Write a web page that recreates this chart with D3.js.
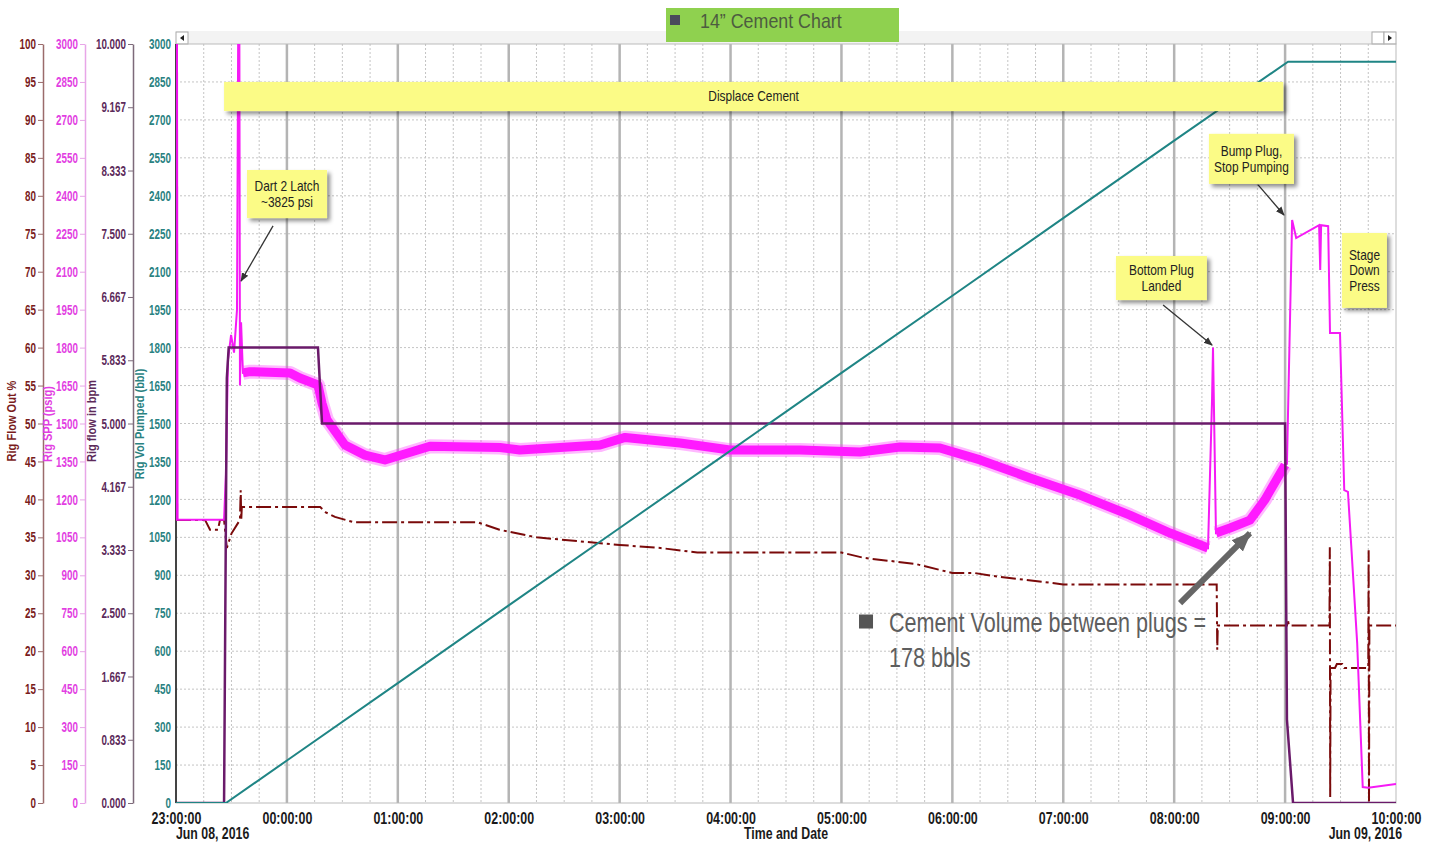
<!DOCTYPE html>
<html>
<head>
<meta charset="utf-8">
<script src="https://cdn.jsdelivr.net/npm/d3@7"></script>
<style>
  body { margin: 0; background: #fff; }
  svg text { font-family: "Liberation Sans", Arial, sans-serif; }
</style>
</head>
<body>
<div id="chart"></div>
<script>
// times are minutes after 23:00:00 Jun 08, 2016

// Rig SPP (psig)
const sppTime = [0, 0.3, 26, 27, 28.1, 29.8, 31.4, 33, 34.1, 34.6, 35.2, 36.2, 40, 61.7, 67, 76.8, 79, 81.7, 91.4, 102.2, 113,
  137.4, 175.3, 186, 229.4, 243, 272.7, 299.7, 337.6, 370, 391.7, 413.3, 435, 462, 489, 516, 537.8, 558.3, 560.5, 561,
  562.6, 570.2, 581, 589, 600, 601, 603.8, 606, 618.4, 619, 619.5, 623.3, 624.3, 629.7, 632, 634, 639, 642, 645, 660]
const sppPsi = [3000, 1120, 1120, 1300, 1750, 1850, 1780, 1950, 3825, 1650, 1900, 1700, 1705, 1700, 1680, 1652, 1580, 1514, 1415, 1375, 1356,
  1410, 1405, 1395, 1415, 1445, 1423, 1395, 1395, 1387, 1407, 1403, 1356, 1285, 1217, 1138, 1067, 1008, 1600, 1800,
  1067, 1087, 1118, 1198, 1336, 1340, 2304, 2233, 2284, 2107, 2284, 2280, 1858, 1858, 1237, 1230, 632, 63, 60, 75]

// Rig flow in (bpm)
const flowInTime = [0, 26, 27.5, 28.5, 76.8, 79, 600, 601, 604.3, 660]
const flowInBpm = [0, 0, 5.6, 6.0, 6.0, 5.0, 5.0, 1.1, 0, 0]

// Rig Flow Out %
const flowOutTime = [0, 15.7, 18.4, 22.7, 23.8, 26, 27.5, 30, 34.6, 35.0, 35.3, 35.6, 78, 81, 86, 96, 163, 175, 195, 240, 262, 282,
  360, 372, 400, 420, 432, 445, 460, 480, 563, 563.3, 563.6, 601, 601.5, 602, 624, 624.2, 624.4, 624.6, 627, 628, 631, 632,
  645, 645.2, 645.4, 645.6, 660]
const flowOutPct = [37.3, 37.3, 36, 36, 37.3, 37.3, 33.6, 35.5, 37.3, 41.2, 37.3, 39, 39, 38.3, 37.7, 37, 37, 36, 35, 34, 33.6, 33,
  33, 32.3, 31.5, 30.3, 30.3, 29.8, 29.4, 28.8, 28.8, 20.2, 23.4, 23.4, 24.2, 23.4, 23.4, 33.7, 0.8, 17.8, 17.8, 18.3, 18.3, 17.8,
  17.8, 33.3, 0, 23.4, 23.4]

// Rig Vol Pumped (bbl)
const volTime = [0, 27, 60, 120, 180, 240, 300, 360, 420, 480, 540, 601.6, 660]
const volBbl = [0, 0, 168, 474, 781, 1087, 1393, 1700, 2005, 2312, 2618, 2930, 2930]

// tick labels
const pctTicks = [0, 5, 10, 15, 20, 25, 30, 35, 40, 45, 50, 55, 60, 65, 70, 75, 80, 85, 90, 95, 100]
const psiTicks = [0, 150, 300, 450, 600, 750, 900, 1050, 1200, 1350, 1500, 1650, 1800, 1950, 2100, 2250, 2400, 2550, 2700, 2850, 3000]
const bpmTicks = [0, 0.833, 1.667, 2.5, 3.333, 4.167, 5, 5.833, 6.667, 7.5, 8.333, 9.167, 10]
const hourTicks = [0, 60, 120, 180, 240, 300, 360, 420, 480, 540, 600, 660]

const width = 1437, height = 846
const plot = { left: 176, right: 1396, top: 44, bottom: 803 }

const t0 = new Date(2016, 5, 8, 23, 0, 0)
const tm = m => new Date(t0.getTime() + m * 60000)

let svg = d3.select('#chart').append('svg')
  .attr('width', width)
  .attr('height', height)

let x = d3.scaleTime().domain([tm(0), tm(660)]).range([plot.left, plot.right])
let yBbl = d3.scaleLinear().domain([0, 3000]).range([plot.bottom, plot.top])
let yPsi = d3.scaleLinear().domain([0, 3000]).range([plot.bottom, plot.top])
let yPct = d3.scaleLinear().domain([0, 100]).range([plot.bottom, plot.top])
let yBpm = d3.scaleLinear().domain([0, 10]).range([plot.bottom, plot.top])

// narrow-looking text: squeeze horizontally
function ntext(parent, px, py, str, size, sx, sy) {
  return parent.append('text')
    .attr('transform', `translate(${px},${py}) scale(${sx},${sy || 1})`)
    .attr('font-size', size)
    .text(str)
}

let defs = svg.append('defs')
defs.append('clipPath').attr('id', 'plotClip')
  .append('rect')
  .attr('x', plot.left).attr('y', plot.top)
  .attr('width', plot.right - plot.left).attr('height', plot.bottom - plot.top)

let shadow = defs.append('filter').attr('id', 'shadow')
  .attr('x', '-20%').attr('y', '-20%').attr('width', '150%').attr('height', '160%')
shadow.append('feDropShadow')
  .attr('dx', 3).attr('dy', 3).attr('stdDeviation', 2)
  .attr('flood-color', '#000').attr('flood-opacity', 0.45)

function addArrow(id, color, size) {
  defs.append('marker')
    .attr('id', id)
    .attr('viewBox', '0 0 10 10')
    .attr('refX', 9).attr('refY', 5)
    .attr('markerWidth', size).attr('markerHeight', size)
    .attr('markerUnits', 'userSpaceOnUse')
    .attr('orient', 'auto')
    .append('path')
    .attr('d', 'M0,1 L10,5 L0,9 Z')
    .attr('fill', color)
}
addArrow('arrowSmall', '#333', 9)
addArrow('arrowBig', '#666', 20)

// scroll strip above the plot
svg.append('rect')
  .attr('x', plot.left).attr('y', 31)
  .attr('width', plot.right - plot.left).attr('height', 13)
  .attr('fill', '#f3f3f3')
svg.append('rect').attr('x', plot.left).attr('y', 32).attr('width', 12).attr('height', 12)
  .attr('fill', '#fff').attr('stroke', '#aaa')
svg.append('path').attr('d', `M${plot.left + 8},35 L${plot.left + 4},38 L${plot.left + 8},41 Z`).attr('fill', '#222')
svg.append('rect').attr('x', plot.right - 24).attr('y', 32).attr('width', 12).attr('height', 12)
  .attr('fill', '#fff').attr('stroke', '#aaa')
svg.append('rect').attr('x', plot.right - 12).attr('y', 32).attr('width', 12).attr('height', 12)
  .attr('fill', '#fff').attr('stroke', '#aaa')
svg.append('path').attr('d', `M${plot.right - 8},35 L${plot.right - 4},38 L${plot.right - 8},41 Z`).attr('fill', '#222')

// grid
let grid = svg.append('g')
grid.selectAll('.hgrid')
  .data(psiTicks.slice(1, -1))
  .join('line')
  .attr('x1', plot.left).attr('x2', plot.right)
  .attr('y1', d => yBbl(d)).attr('y2', d => yBbl(d))
  .attr('stroke', '#c4c4c4').attr('stroke-dasharray', '2,2')

let quarterTicks = d3.range(15, 660, 15).filter(m => m % 60 !== 0)
grid.selectAll('.vgrid')
  .data(quarterTicks)
  .join('line')
  .attr('x1', d => x(tm(d))).attr('x2', d => x(tm(d)))
  .attr('y1', plot.top).attr('y2', plot.bottom)
  .attr('stroke', '#c4c4c4').attr('stroke-dasharray', '2,2')

grid.selectAll('.hourgrid')
  .data(hourTicks.slice(1, -1))
  .join('line')
  .attr('x1', d => x(tm(d))).attr('x2', d => x(tm(d)))
  .attr('y1', plot.top).attr('y2', plot.bottom)
  .attr('stroke', '#b4b4b4').attr('stroke-width', 2.5)

// plot frame
svg.append('rect')
  .attr('x', plot.left).attr('y', plot.top)
  .attr('width', plot.right - plot.left).attr('height', plot.bottom - plot.top)
  .attr('fill', 'none').attr('stroke', '#bbb')
svg.append('line')
  .attr('x1', plot.left).attr('x2', plot.left)
  .attr('y1', plot.top).attr('y2', plot.bottom)
  .attr('stroke', '#111').attr('stroke-width', 1.5)

// left axes
function leftAxis(scale, xPos, ticks, fmt, textColor, lineColor, tickSize) {
  let pad = tickSize ? 2 : 5
  let g = svg.append('g')
    .attr('transform', `translate(${xPos},0)`)
    .call(d3.axisLeft(scale).tickValues(ticks).tickFormat(fmt).tickSize(tickSize).tickSizeOuter(0).tickPadding(pad))
  g.attr('font-family', null).attr('font-size', null)
  g.select('.domain').attr('stroke', lineColor).attr('stroke-width', 1.5)
  g.selectAll('.tick line').attr('stroke', lineColor)
  g.selectAll('.tick text')
    .attr('fill', textColor)
    .attr('font-size', 12)
    .attr('font-weight', 'bold')
    .attr('x', -(tickSize + pad) / 0.82)
    .attr('transform', 'scale(0.82,1.2)')
  return g
}

leftAxis(yPct, 43, pctTicks, d3.format('d'), '#7a1c1c', '#9b6b6b', 5)
leftAxis(yPsi, 85, psiTicks, d3.format('d'), '#e23ee2', '#e8a6e8', 5)
leftAxis(yBpm, 133, bpmTicks, d3.format('.3f'), '#5c2a5a', '#7d6a7a', 5)
leftAxis(yBbl, plot.left, psiTicks, d3.format('d'), '#2a8282', 'none', 0)

function axisTitle(txt, xPos, yMid, color) {
  svg.append('text')
    .attr('transform', `translate(${xPos},${yMid}) rotate(-90) scale(0.92,1)`)
    .attr('text-anchor', 'middle')
    .attr('font-size', 12)
    .attr('font-weight', 'bold')
    .attr('fill', color)
    .text(txt)
}
axisTitle('Rig Flow Out %', 16, 421, '#7a1c1c')
axisTitle('Rig SPP (psig)', 52, 424, '#e23ee2')
axisTitle('Rig flow in bpm', 96, 421, '#5c2a5a')
axisTitle('Rig Vol Pumped (bbl)', 144, 424, '#2a8282')

// bottom axis
let xAxis = svg.append('g')
  .attr('transform', `translate(0,${plot.bottom})`)
  .call(d3.axisBottom(x).tickValues(hourTicks.map(tm)).tickFormat(d3.timeFormat('%H:%M:%S')).tickSize(0).tickPadding(8))
xAxis.attr('font-family', null).attr('font-size', null)
xAxis.select('.domain').remove()
xAxis.selectAll('.tick text')
  .attr('fill', '#1a1a1a')
  .attr('font-size', 14)
  .attr('font-weight', 'bold')
  .attr('transform', 'scale(0.89,1.15)')

let dateLabels = svg.append('g').attr('font-weight', 'bold').attr('fill', '#1a1a1a')
ntext(dateLabels, plot.left, 839, 'Jun 08, 2016', 14, 0.88, 1.12)
ntext(dateLabels, (plot.left + plot.right) / 2, 839, 'Time and Date', 14, 0.88, 1.12).attr('text-anchor', 'middle')
ntext(dateLabels, plot.right + 6, 839, 'Jun 09, 2016', 14, 0.88, 1.12).attr('text-anchor', 'end')

// series
let series = svg.append('g').attr('clip-path', 'url(#plotClip)')

let sppData = sppTime.map((t, i) => ({ t: t, v: sppPsi[i] }))
let flowInData = flowInTime.map((t, i) => ({ t: t, v: flowInBpm[i] }))
let flowOutData = flowOutTime.map((t, i) => ({ t: t, v: flowOutPct[i] }))
let volData = volTime.map((t, i) => ({ t: t, v: volBbl[i] }))

function lineFor(yScale) {
  return d3.line().x(d => x(tm(d.t))).y(d => yScale(d.v))
}

series.append('path')
  .datum(flowOutData)
  .attr('d', lineFor(yPct))
  .attr('fill', 'none')
  .attr('stroke', '#7a0a0a')
  .attr('stroke-width', 2)
  .attr('stroke-dasharray', '15,4,3,4')

series.append('path')
  .datum(sppData)
  .attr('d', lineFor(yPsi))
  .attr('fill', 'none')
  .attr('stroke', '#f51af5')
  .attr('stroke-width', 2)

// the noisy stretch of SPP shows as a wide band
let bandParts = [sppData.filter(d => d.t >= 36.2 && d.t <= 558.3), sppData.filter(d => d.t >= 562.6 && d.t <= 600)]
bandParts.forEach(part => {
  series.append('path')
    .datum(part)
    .attr('d', lineFor(yPsi))
    .attr('fill', 'none')
    .attr('stroke', '#ff33ff')
    .attr('stroke-opacity', 0.35)
    .attr('stroke-width', 14)
    .attr('stroke-linejoin', 'round')
  series.append('path')
    .datum(part)
    .attr('d', lineFor(yPsi))
    .attr('fill', 'none')
    .attr('stroke', '#ff1aff')
    .attr('stroke-width', 9)
    .attr('stroke-linejoin', 'round')
})

series.append('path')
  .datum(sppData.filter(d => d.t <= 0.3))
  .attr('d', lineFor(yPsi))
  .attr('fill', 'none')
  .attr('stroke', '#ee11ee')
  .attr('stroke-width', 4)

series.append('path')
  .datum(flowInData)
  .attr('d', lineFor(yBpm))
  .attr('fill', 'none')
  .attr('stroke', '#6a1a6a')
  .attr('stroke-width', 2.5)

series.append('path')
  .datum(volData)
  .attr('d', lineFor(yBbl))
  .attr('fill', 'none')
  .attr('stroke', '#1f8585')
  .attr('stroke-width', 2)

// annotations (placed in time / value units)
let notes = [
  { lines: ['Displace Cement'], t: [26, 599], v: [2850, 2735] },
  { lines: ['Dart 2 Latch', '~3825 psi'], t: [38.4, 81.7], v: [2502, 2312] },
  { lines: ['Bump Plug,', 'Stop Pumping'], t: [558.8, 604.8], v: [2645, 2447] },
  { lines: ['Bottom Plug', 'Landed'], t: [508.5, 557.7], v: [2162, 1988] },
  { lines: ['Stage', 'Down', 'Press'], t: [630.8, 655.1], v: [2253, 1957] }
]
let arrows = [
  { from: [52.5, 2281], to: [35.2, 2063] },
  { from: [534, 1968], to: [560.5, 1810] },
  { from: [585.4, 2443], to: [599.4, 2324] }
]

arrows.forEach(a => {
  svg.append('line')
    .attr('x1', x(tm(a.from[0]))).attr('y1', yBbl(a.from[1]))
    .attr('x2', x(tm(a.to[0]))).attr('y2', yBbl(a.to[1]))
    .attr('stroke', '#333').attr('stroke-width', 1.3)
    .attr('marker-end', 'url(#arrowSmall)')
})

let noteSize = 14
notes.forEach(n => {
  let x0 = x(tm(n.t[0])), x1 = x(tm(n.t[1]))
  let y0 = yBbl(n.v[0]), y1 = yBbl(n.v[1])
  svg.append('rect')
    .attr('x', x0).attr('y', y0)
    .attr('width', x1 - x0).attr('height', y1 - y0)
    .attr('fill', '#fbfb86')
    .attr('filter', 'url(#shadow)')
  let lh = noteSize + 1.5
  let startY = (y0 + y1) / 2 - (n.lines.length - 1) * lh / 2 + noteSize * 0.35
  n.lines.forEach((l, i) => {
    ntext(svg, (x0 + x1) / 2, startY + i * lh, l, noteSize, 0.85)
      .attr('text-anchor', 'middle')
      .attr('fill', '#222')
  })
})

// cement volume note
svg.append('line')
  .attr('x1', x(tm(543.2))).attr('y1', yBbl(790))
  .attr('x2', x(tm(581))).attr('y2', yBbl(1067))
  .attr('stroke', '#666').attr('stroke-width', 6)
  .attr('marker-end', 'url(#arrowBig)')

svg.append('rect')
  .attr('x', x(tm(369.5))).attr('y', yBbl(745))
  .attr('width', 14).attr('height', 14)
  .attr('fill', '#555')
ntext(svg, x(tm(385.7)), yBbl(676), 'Cement Volume between plugs =', 26, 0.83, 1.08).attr('fill', '#5e5e5e')
ntext(svg, x(tm(385.7)), yBbl(538), '178 bbls', 26, 0.83, 1.08).attr('fill', '#5e5e5e')

// title
svg.append('rect')
  .attr('x', 666).attr('y', 8)
  .attr('width', 233).attr('height', 34)
  .attr('fill', '#8fd14f')
svg.append('rect')
  .attr('x', 670).attr('y', 15)
  .attr('width', 10).attr('height', 10)
  .attr('fill', '#4a4a5c')
ntext(svg, 700, 28, '14” Cement Chart', 21, 0.85).attr('fill', '#4d5c40')
</script>
</body>
</html>
